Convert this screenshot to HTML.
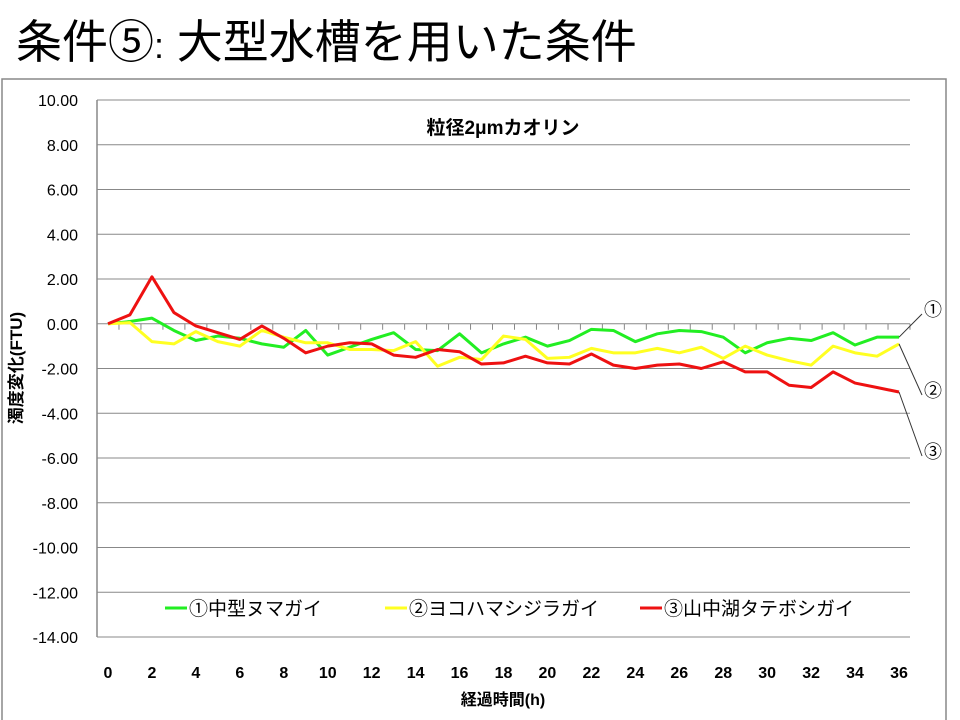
<!DOCTYPE html>
<html><head><meta charset="utf-8"><style>
body{margin:0;background:#fff;width:960px;height:720px;overflow:hidden;font-family:"Liberation Sans","Noto Sans CJK JP",sans-serif}
</style></head><body>
<div style="position:absolute;left:16px;top:6px;font-size:46px;color:#000;white-space:nowrap">条件⑤<span style="font-size:36px">:</span> 大型水槽を用いた条件</div>
<svg id="chart" width="960" height="720" style="position:absolute;left:0;top:0">
<rect x="2" y="79" width="944" height="645" fill="none" stroke="#888" stroke-width="1.5"/>
<text x="503" y="134" font-size="19" font-weight="bold" text-anchor="middle">粒径2μmカオリン</text>
<text transform="translate(22,368) rotate(-90)" font-size="17" font-weight="bold" text-anchor="middle">濁度変化(FTU)</text>
<text x="503" y="705" font-size="16" font-weight="bold" text-anchor="middle">経過時間(h)</text>
<g id="grid"></g><g id="series"></g><g id="legend"></g>
</svg>
<script>
const hours=[...Array(37).keys()];
const yTicks=[10,8,6,4,2,0,-2,-4,-6,-8,-10,-12,-14];
const xTickLabels=[0,2,4,6,8,10,12,14,16,18,20,22,24,26,28,30,32,34,36];
const seriesNames=["①中型ヌマガイ","②ヨコハマシジラガイ","③山中湖タテボシガイ"];
const green=[0,0.1,0.25,-0.3,-0.75,-0.55,-0.65,-0.9,-1.05,-0.3,-1.4,-1.05,-0.7,-0.4,-1.15,-1.2,-0.45,-1.3,-0.9,-0.6,-1.0,-0.75,-0.25,-0.3,-0.8,-0.45,-0.3,-0.35,-0.6,-1.3,-0.85,-0.65,-0.75,-0.4,-0.95,-0.6,-0.6];
const yellow=[0,0.05,-0.8,-0.9,-0.35,-0.8,-1.0,-0.3,-0.6,-0.85,-0.85,-1.15,-1.15,-1.2,-0.8,-1.9,-1.5,-1.6,-0.55,-0.7,-1.55,-1.5,-1.1,-1.3,-1.3,-1.1,-1.3,-1.05,-1.55,-1.0,-1.4,-1.65,-1.85,-1.0,-1.3,-1.45,-0.9];
const red=[0,0.4,2.1,0.5,-0.1,-0.4,-0.7,-0.1,-0.65,-1.3,-1.0,-0.85,-0.9,-1.4,-1.5,-1.15,-1.25,-1.8,-1.75,-1.45,-1.75,-1.8,-1.35,-1.85,-2.0,-1.85,-1.8,-2.0,-1.7,-2.15,-2.15,-2.75,-2.85,-2.15,-2.65,-2.85,-3.05];
const colors=["#22ee22","#ffff22","#ee1111"];
const NS="http://www.w3.org/2000/svg";
const X0=97,X1=910,Y10=100,Ym14=637;
const xs=h=>108+h*(899-108)/36;
const ys=v=>Y10+(10-v)*(Ym14-Y10)/24;
function mk(t,a,p){const e=document.createElementNS(NS,t);for(const k in a)e.setAttribute(k,a[k]);p.appendChild(e);return e;}
const g=document.getElementById('grid');
yTicks.forEach(v=>{
 const l=mk('line',{x1:X0,x2:X1,y1:ys(v),y2:ys(v),stroke:'#888','stroke-width':1},g);
 
 
 const t=mk('text',{x:78,y:ys(v)+6,'font-size':16,'text-anchor':'end'},g);
 t.textContent=v.toFixed(2);
 
 
});
const ax=mk('line',{x1:X0,x2:X0,y1:Y10,y2:Ym14,stroke:'#888','stroke-width':1.5},g);


for(let h=0;h<=37;h++){const x=X0+h*(X1-X0)/37;const tk=mk('line',{x1:x,x2:x,y1:ys(0),y2:ys(0)+6,stroke:'#888'},g);
 
 }
xTickLabels.forEach(h=>{const t=mk('text',{x:xs(h),y:678,'font-size':16,'text-anchor':'middle','font-weight':'bold'},g);t.textContent=h;
 
 });
const s=document.getElementById('series');
[green,yellow,red].forEach((d,i)=>{
 const p=mk('polyline',{points:d.map((v,j)=>xs(hours[j])+','+ys(v)).join(' '),fill:'none',stroke:colors[i],'stroke-width':3,'stroke-linejoin':'round'},s);
 
 
 const ey=ys(d[36]),lx=xs(36);const labY=[309,390,451][i];
 const ll=mk('line',{x1:lx,y1:ey,x2:922,y2:labY+5,stroke:'#333'},s);
 
 
 const ct=mk('text',{x:933,y:labY+7,'font-size':18,'text-anchor':'middle'},s);ct.textContent="①②③"[i];
 
 
});
const lg=document.getElementById('legend');
[165,385,640].forEach((x,i)=>{
 const l=mk('line',{x1:x,x2:x+22,y1:608,y2:608,stroke:colors[i],'stroke-width':3},lg);
 
 
 const t=mk('text',{x:x+24,y:615,'font-size':19},lg);t.textContent=seriesNames[i];
 
 
});
</script>
</body></html>
